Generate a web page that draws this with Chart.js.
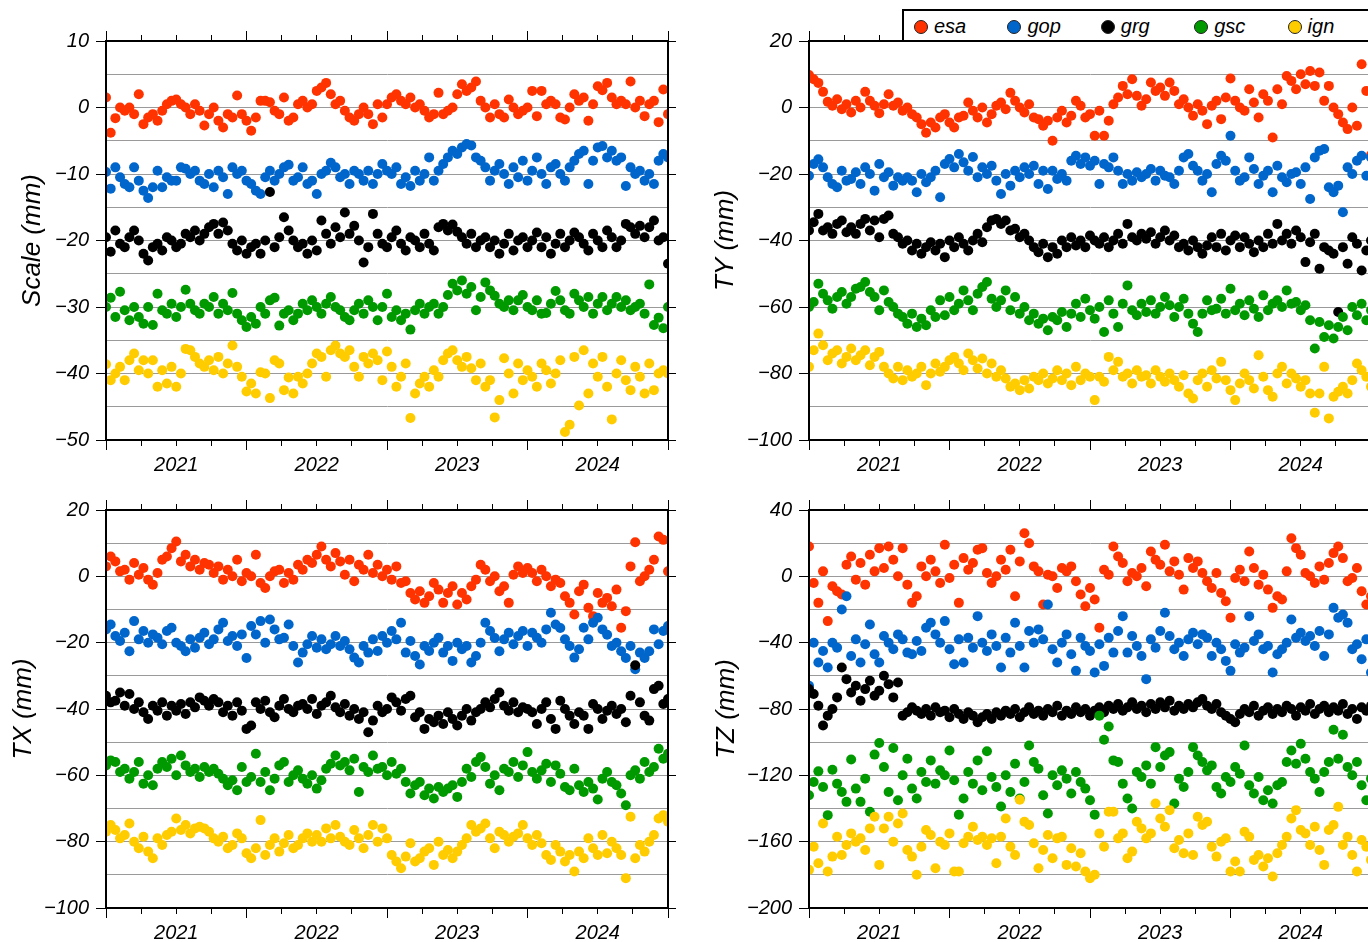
<!DOCTYPE html>
<html>
<head>
<meta charset="utf-8">
<script src="https://cdn.jsdelivr.net/npm/chart.js@4.4.1/dist/chart.umd.min.js"></script>
<style>
  html, body { margin: 0; padding: 0; background: #fff; overflow: hidden; width: 1368px; height: 942px; }
  #wrap { position: relative; width: 1380px; height: 942px; }
  #wrap canvas { position: absolute; }
  #legend {
    position: absolute; left: 902px; top: 9px; width: 480px; height: 29px;
    border: 2px solid #000; background: #fff; z-index: 5;
    font: italic 20px "Liberation Sans", Arial, sans-serif; color: #000;
  }
  #legend .mk { position: absolute; top: 9px; width: 12px; height: 12px; border: 1px solid #222; border-radius: 50%; }
  #legend .lb { position: absolute; top: 3px; line-height: 24px; }
</style>
</head>
<body>
<div id="wrap">
  <canvas id="cScale" width="700" height="475" style="left:0;top:0;width:700px;height:475px"></canvas>
  <canvas id="cTY" width="680" height="475" style="left:700px;top:0;width:680px;height:475px"></canvas>
  <canvas id="cTX" width="700" height="467" style="left:0;top:475px;width:700px;height:467px"></canvas>
  <canvas id="cTZ" width="680" height="467" style="left:700px;top:475px;width:680px;height:467px"></canvas>
  <div id="legend"></div>
</div>
<script>
// sampling: one value every 1/30 year starting at 2021.0
const firstEpoch = 2021;
const epochStep = 1 / 30;
const quarterTicks = [2021, 2021.25, 2021.5, 2021.75, 2022, 2022.25, 2022.5, 2022.75,
  2023, 2023.25, 2023.5, 2023.75, 2024, 2024.25, 2024.5, 2024.75, 2025];

const seriesNames = ["esa", "gop", "grg", "gsc", "ign"];
const seriesColors = ["#ff3300", "#0066cc", "#000000", "#009900", "#ffcc00"];

// ---- Scale (mm)
const scaleEsa = [1.5, -3.8, -1.6, 0, -0.5, 0, -1, 2, -2.5, -1.5, -1,
  -2, -0.5, 0.5, 1, 1.2, 0.5, 0, -1, 0.5, -0.5,
  -2.7, -1, 0, -2, -3, -1, -1.5, 1.8, -1, -2,
  -3.5, -1.5, 1, 1, 0.8, -0.5, -1, 1.5, -2, -1.5,
  0.5, 1, 0, 0.5, 2.5, 3, 3.7, 2, 0.5, 1,
  -0.5, -1.5, -2, -1, 0, -1, -2.5, 0.5, -1.5, 0.5,
  1.5, 2, 1, 0.5, 1.5, 0, 0.5, -0.5, -1.5, -1,
  2.2, -1, -0.5, 0, 2, 3.5, 2.5, 3, 3.9, 1,
  0, -1.5, 0.5, -1, -1.5, 1.2, 0, -1, -0.5, 0,
  2.5, -1.3, 2.5, 0.5, 1, 0.5, -1.5, -1.8, 0, 2,
  1, 1.5, -2, 0.5, 3.2, 2.6, 3.7, 1.5, 0.5, 1,
  0.5, 3.9, 0, 1, -1.3, 0.5, 1, -2.2, 2.7, -1];
const scaleGop = [-9.7, -12.2, -9, -10.5, -11.5, -12, -9, -11, -12.5, -13.6, -12,
  -9.5, -12, -10.5, -11, -11, -9, -9.2, -10, -9.5, -11,
  -11.5, -10, -12, -9.5, -10.5, -13, -9, -10, -9.5, -11,
  -11.5, -12.5, -13, -10.5, -9.5, -11, -10, -9, -8.6, -11,
  -10.5, -9, -11.5, -11, -13, -10, -9.5, -8.3, -9, -10.5,
  -10, -11.5, -9.5, -10, -11, -9.5, -11.5, -10, -8.5, -9.5,
  -10, -9, -11.5, -10.5, -11.8, -9.5, -11, -10, -7.5, -11,
  -9.5, -8.5, -7.5, -6.5, -7, -6, -5.5, -5.7, -7.5, -8,
  -9, -11, -9.5, -8.5, -10, -11.5, -9, -10.5, -8, -11,
  -9.5, -7.5, -10, -11.5, -9, -8.5, -10, -11, -9, -8,
  -7, -6.5, -11.5, -8, -6, -5.8, -7.5, -6.5, -8, -7.5,
  -11.8, -9, -10, -9.5, -11, -10, -11.5, -8, -7, -7.5];
const scaleGrg = [-19.5, -21.7, -18.5, -20.5, -21, -19.5, -18.5, -20, -22, -23, -21,
  -20.5, -21.5, -19.5, -20, -21, -20.5, -19, -19.5, -18.5, -20,
  -19, -18, -17.5, -19, -17.3, -18.5, -20.5, -21.5, -20, -22,
  -21, -20.5, -22, -20, -12.7, -21, -19.5, -16.5, -18.5, -20,
  -21, -20.5, -22, -20, -21.5, -17, -19, -20.5, -18, -19.5,
  -15.8, -19, -17.8, -20, -23.3, -21, -16, -19, -20.5, -21,
  -19.5, -18.5, -20.5, -21.5, -19.5, -20, -21, -19, -20.5, -21.5,
  -18, -17.5, -18.5, -17.6, -18.7, -19.5, -20.5, -19, -21, -20,
  -19.5, -21, -20, -22, -20.5, -19, -21.5, -20, -19.5, -21,
  -20, -18.8, -21, -19.5, -22, -20.5, -19, -21, -20, -18.8,
  -19.5, -20.5, -21.5, -19, -20, -21, -18.5, -19.5, -21, -20,
  -17.5, -18, -19, -17.8, -19.5, -18, -17, -20, -19.5, -23.5];
const scaleGsc = [-30, -28.6, -31.5, -27.7, -30.5, -32, -30, -31.5, -32.5, -30, -32.7,
  -28, -30.5, -31, -29.5, -31.5, -30, -27.4, -29.5, -30.5, -31,
  -29.5, -30, -28.5, -31, -29.5, -30.5, -27.9, -31, -32, -33,
  -31.5, -32.5, -30, -31, -29, -28.6, -32.8, -31, -30.5, -32,
  -31, -29.5, -30.5, -29, -30, -31, -29.5, -28.5, -30, -30.5,
  -31.5, -32, -30.5, -29.5, -31, -29, -30, -32, -30, -28,
  -31.5, -30.5, -32, -31, -33.4, -30.5, -29.5, -31, -30, -29.5,
  -31, -30, -28.2, -26.5, -27.5, -26, -28, -27, -30.5, -28.5,
  -26.3, -27.5, -28.3, -29.5, -30, -29, -30.5, -29, -28.2, -30,
  -30.5, -29, -31, -30.9, -29.5, -27.6, -29, -30.5, -31, -28,
  -29, -30, -28.5, -31, -29.5, -28.5, -30.5, -29.5, -28.5, -30,
  -29, -30.5, -30, -29.5, -31, -26.6, -32.7, -31.6, -33.2, -30];
const scaleIgn = [-38.6, -41, -40, -39, -41, -38, -37, -39.5, -38, -40, -38,
  -42, -39.5, -41.5, -39, -42, -40, -36.3, -36.5, -37.5, -38.5,
  -39, -38, -39.5, -37.5, -40, -38.5, -35.8, -39, -40.5, -42.7,
  -41.5, -43, -39.8, -40, -43.7, -38, -38.5, -42.5, -40.6, -43,
  -40.5, -41.5, -40, -38.5, -37, -37.5, -40.5, -36.5, -35.8, -37,
  -37.5, -36.5, -39, -40.5, -37.5, -38.5, -37, -38, -41, -36.7,
  -39, -42, -40.5, -38.5, -46.7, -43, -41.5, -40.5, -42, -39.5,
  -40.5, -38, -37, -36.5, -38, -39, -37.5, -39.2, -41, -38.5,
  -42, -41, -46.6, -44, -37.7, -40, -43, -38.5, -41, -39.5,
  -40.5, -42, -38.5, -39.5, -41.5, -40, -38, -48.8, -47.7, -37.5,
  -44.8, -36.5, -43, -38.5, -40.5, -37.5, -42, -46.9, -40, -38,
  -41, -42.5, -39, -40.5, -43, -38.5, -42.5, -40, -39.5, -40];

// ---- TY (mm)
const tyEsa = [9.8, 8.5, 7.4, 4.7, 1.7, 0.5, 2.5, -0.5, 1, -1.5, 2,
  0, 4.7, 2, 0.5, -1.7, 1, 4, 0.5, 1.5, -1,
  0, -2, -3, -5, -7.6, -4.5, -6, -3, -2, -4.5,
  -6, -3, -2.5, 1.5, -1, -3, 0, -4.5, -2, 0.5,
  1.5, -0.5, 4.4, 2, 0, -1.5, 1, -3, -3.5, -5.5,
  -4, -10, -3, -1, -4.5, -2.5, 2, 0.5, -3, -2,
  -8.5, -1, -8.5, -4, 1, 3, 6.5, 4, 8.5, 3.5,
  0.5, 2.5, 7.5, 5, 6, 3.5, 7.5, 5, 1, 2.5,
  0, -2.5, 1, -1, -5, 0.5, 2, -3.5, 3, 8.7,
  2, 0, -1, 5.5, 1.5, -3, 4, 2, -9, 5.5,
  1, 9.5, 8, 5.5, 10, 7, 11, 6.5, 10.5, 2,
  6.5, 0, -2, -4.5, -6.5, 0, -5.5, 13, 5, -14.3];
const tyGop = [-20.5, -17, -15.6, -18, -21, -23, -24, -19, -22, -21.5, -19.5,
  -23, -18, -20, -25, -17, -21, -19.5, -23.5, -21, -22,
  -21, -22, -25.5, -20, -22.5, -21, -19, -27, -17, -15.5,
  -18, -14, -16.5, -19, -14.9, -21, -18, -20, -17.5, -22,
  -26, -20, -23.5, -19, -21, -18, -20, -17.5, -23, -19,
  -24.5, -19, -21.5, -20, -22, -16, -14.5, -17, -15, -17.5,
  -16, -23, -17, -18, -15, -19, -23, -20, -22, -19.5,
  -21, -20, -18.5, -22, -19, -20.5, -21, -23, -19, -15,
  -14, -17.5, -19, -22, -20, -25.5, -17, -14.5, -16, -8.5,
  -19, -22, -21, -15, -18.5, -23, -20.5, -19, -25.5, -17.5,
  -21, -22.5, -20, -19.5, -23, -18, -27.5, -15, -13, -12.5,
  -24, -25.5, -23.5, -31.5, -18, -20, -16, -14.5, -20.5, -15];
const tyGrg = [-37, -34.5, -32, -37, -36, -38, -35, -34, -37.5, -36, -38,
  -35, -33.5, -37, -34, -39, -33.5, -32.5, -38, -39, -41,
  -40, -43, -41, -44, -42, -40.5, -43, -41, -45, -40,
  -42, -39, -41, -43, -40, -38, -40.5, -36, -34, -33.5,
  -35, -34, -37, -36.5, -39, -38, -40, -42, -43.5, -41,
  -45, -42, -44, -40, -42, -39, -41.5, -40, -42, -38.5,
  -40, -41, -39, -42, -40, -38, -41, -35, -39, -40,
  -38, -39.5, -37.5, -41, -39, -37, -40, -38.5, -42, -41,
  -43, -40, -42, -44, -41.5, -39, -42, -38, -43, -40,
  -38.5, -42, -39, -41, -43.5, -40, -42, -38, -41, -35,
  -40, -38, -41, -37, -39, -46.5, -40.5, -38, -48.5, -42,
  -43, -44, -61.5, -42, -47, -39, -41, -49, -43, -40];
const tyGsc = [-60, -58.5, -53, -56, -58, -60.5, -57, -55.5, -59, -57, -54.5,
  -54, -52.5, -55.5, -57, -61, -55, -58.5, -60, -62, -63,
  -65, -62, -66, -63.5, -65.5, -61, -63, -58, -62.5, -57,
  -61, -59, -55, -58, -61, -56, -54, -52.5, -57.5, -60,
  -58, -55, -61, -57, -62, -60, -64, -62, -65, -63.5,
  -67, -63, -64, -61.5, -66, -62, -59, -63, -57.5, -61,
  -63.5, -60, -67.5, -58, -62, -66, -59, -53.5, -61, -62.5,
  -59, -61.5, -58, -62, -60, -57, -59.5, -63, -60, -57.5,
  -62, -65, -67.5, -62, -58, -61, -60.5, -57.5, -62, -54.5,
  -61, -59, -62.5, -58, -60.5, -63, -56.5, -61, -59, -58,
  -60, -55, -59, -58.5, -61, -59.5, -64, -72.5, -64.5, -69,
  -65.5, -69.5, -66, -63, -67, -60, -62.5, -59, -64, -61];
const tyIgn = [-78, -73, -68, -71.5, -76, -74, -73, -77, -75, -72.5, -76,
  -74.5, -73, -77.5, -75, -73.5, -78, -80, -81.5, -78, -82,
  -79, -81, -80, -78, -83.5, -80, -77, -79.5, -78, -76,
  -75, -77, -79, -74, -76, -78.5, -75.5, -80, -77, -81,
  -79, -81.5, -84, -83, -85, -82, -84.5, -81, -82, -80,
  -83, -81.5, -79, -82, -80, -83.5, -78, -82, -80, -81,
  -88, -81, -82.5, -75, -79, -76.5, -81, -80, -83, -79,
  -81, -80.5, -83, -79, -81, -82.5, -80, -82, -84, -80.5,
  -86, -87.5, -82, -80, -84, -79, -81.5, -76.5, -82, -85,
  -88, -83, -80, -82, -84.5, -74.5, -81, -85, -87, -80,
  -78, -83, -80, -81.5, -84, -82, -86, -91.8, -86, -78,
  -93.5, -87, -85.5, -84, -86, -82, -77, -79, -81, -84];

// ---- TX (mm)
const txEsa = [3, 6, 4.5, 1.5, 2, -1, 4, 0.5, 2.5, -1, -2.5,
  1, 5, 6, 8.5, 10.5, 4.5, 6.5, 3, 5, 2,
  4, 3.5, 1, 3, -1, 2, 0, 5, -1.5, 1,
  0, 6.5, -2, -3.5, 0, 1.5, 2, -2, 1, -1,
  3.5, 2, 5, 4, 6.5, 9, 5, 3, 7, 4.5,
  0.5, 5, -1.5, 3.5, 2, 6.5, 1, 3.5, 0, 2,
  -1, 3, -2, -1.5, -5, -7, -4.5, -8, -6, -2,
  -4, -8, -5, -3, -8.5, -5, -7, -3, -1, 3.5,
  2, -1.5, 0, -4.5, -3, -8, 0.5, 3, 1, 2.5,
  1, -1.5, 2, 0, -3, -1, -2, -6, -8, -11.5,
  -4.5, -2.5, -9.5, -12, -5, -8, -6.5, -9, -4, -15.5,
  -10.5, 3, 10.3, -1.5, 0, 2, 5, 12, 11, 1.5];
const txGop = [-16, -14.5, -18, -19.5, -17, -22.6, -13.5, -19, -16.5, -20, -17.5,
  -18.5, -20.5, -16.5, -15.5, -20, -21, -22.6, -19, -21.5, -18.5,
  -17, -20.5, -19, -16, -14, -19.5, -18, -21, -17.5, -24.6,
  -15, -17.5, -13.5, -20, -13, -16, -19, -18.5, -14.5, -21,
  -26, -23, -20.5, -18, -21.5, -19, -22, -20.5, -18, -21,
  -19.5, -22, -24.5, -26, -21, -23, -19, -22.5, -18, -20,
  -16.5, -19, -14, -23, -19.5, -24, -26.6, -21, -22.5, -20,
  -18.5, -23, -21, -25.5, -20, -22, -21, -26, -24, -20,
  -14, -16.5, -18.6, -22.6, -19, -17, -20.5, -18, -16.5, -21,
  -17, -18.5, -20, -16, -11, -14.5, -15.6, -19, -21, -24.5,
  -22, -15.5, -19, -14, -12.5, -16, -17.6, -21, -20, -22.6,
  -24.6, -21, -28, -23, -24.6, -22.6, -16, -20.5, -16.5, -15];
const txGrg = [-36, -38, -37.5, -35, -39, -35.5, -40, -38, -41, -43, -39,
  -40.5, -38, -42, -39, -40.5, -38.5, -41.5, -38, -39.5, -36.5,
  -37.5, -39, -37, -38, -41, -39, -42, -38, -40.5, -46,
  -45, -38, -40, -37.5, -41, -42.5, -39, -37, -40, -41,
  -39, -38.5, -40, -37, -41.5, -39, -38, -36, -39.5, -41,
  -38.5, -42, -40, -43, -41, -47, -43.5, -39, -41, -40,
  -36.5, -38, -40.5, -37, -36, -42.5, -41, -46, -43, -44,
  -42, -44.5, -41, -43, -45, -42, -40, -43.5, -41, -40,
  -38, -39.5, -37, -35, -39, -40.5, -38, -41, -39.5, -40,
  -41, -44.5, -40, -38, -43, -46, -37.5, -40, -42, -44.5,
  -41, -42, -46, -38.5, -40, -43, -40.5, -39, -41.5, -40,
  -44, -36, -26.8, -38, -42, -43.5, -34, -33, -38.5, -37];
const txGsc = [-57, -55.5, -56, -59, -58, -61, -59, -56, -62.5, -60, -63,
  -58, -56, -57.5, -55, -60, -54, -57, -59, -58, -60.5,
  -57.5, -59, -58, -59.5, -61, -63, -61.5, -64.5, -57.5, -62,
  -60.5, -53.5, -62, -59, -64.5, -61, -57, -56, -62, -60,
  -58.5, -61, -62.5, -60, -64, -61.5, -58, -56.5, -54, -57,
  -56, -58.5, -55, -65, -57.5, -59, -54, -58, -57.5, -60,
  -56, -59.5, -58, -62, -65.5, -63, -62, -66, -64, -67,
  -63.5, -65, -64, -63, -66.5, -62, -58, -60.5, -56, -54.5,
  -57.5, -62.5, -60, -64.5, -58, -59, -56, -60.5, -57, -53,
  -59, -61, -58.5, -56.5, -62, -57, -59.5, -63.5, -64.5, -58,
  -63, -65, -62, -64, -67.3, -61, -59, -62, -63, -65.5,
  -69, -60, -58.5, -61, -56, -59, -57.5, -52, -55, -53.5];
const txIgn = [-77, -75, -76.5, -79, -78, -74.5, -80, -82, -78.5, -83, -85,
  -79, -81, -78, -77, -73, -76.5, -75, -77.5, -76, -75.5,
  -76, -77, -79, -80, -78.5, -82, -81, -77.5, -79, -83.5,
  -85, -82, -73.5, -84, -81, -79, -83, -80.5, -78, -82,
  -81, -79, -77.5, -80, -78, -80, -76, -79, -75, -78.5,
  -80, -81, -76.5, -79, -82, -78, -75, -80, -76, -79,
  -84, -86, -88, -84.5, -80.5, -86, -85, -83, -82, -87,
  -80, -84, -82.5, -85, -83, -81, -79, -75, -77, -76,
  -74.5, -79, -82, -77, -78, -80, -78.5, -77.5, -75, -79,
  -81, -78, -80.5, -84, -85.5, -81, -83, -86, -84, -89,
  -83, -85, -79, -82, -84, -78, -83.5, -80, -82, -84,
  -91, -72.5, -85, -81, -83, -80, -78, -73, -72, -74];

// ---- TZ (mm)
const tzEsa = [18, -4, -16, 3, -27, -6, -9, -11, 7, 12, -2,
  8, -5, 13, 3, 17, 5, 18, 10, 0, 17,
  -5, -16, -12, 6, 0, 10, 3, -4, 19, -1,
  7, -16, 11, 4, 8, 16, 17, 2, -4, 0,
  10, 4, 16, -12, 9, 26, 20, 6, 3, -17,
  1, 0, -7, 5, 3, 6, -3, -11, -18, -7,
  -14, -31, 4, 1, 18, 12, 8, -3, 2, 0,
  5, -6, 15, 10, 7, 19, 3, 9, 1, -8,
  11, 5, 9, 2, -3, -7, 2, -10, -15, -25,
  -1, 4, -3, 15, 5, -5, 1, -8, -19, -12,
  -14, 3, 23, 17, 13, 2, 0, -4, 6, -2,
  8, 14, 18, 11, -3, -1, 5, -9, -17, -12];
const tzGop = [-66, -40, -52, -45, -55, -40, -43, -20, -12, -48, -38,
  -52, -41, -29, -47, -52, -36, -40, -44, -35, -38,
  -46, -47, -39, -45, -31, -28, -35, -40, -27, -44,
  -53, -38, -52, -37, -43, -24, -40, -45, -35, -42,
  -55, -37, -46, -28, -42, -55, -33, -40, -32, -38,
  -17, -44, -52, -40, -35, -47, -57, -37, -42, -45,
  -58, -41, -54, -37, -46, -33, -24, -46, -36, -42,
  -48, -62, -38, -43, -33, -22, -36, -44, -40, -48,
  -38, -34, -41, -35, -37, -48, -40, -44, -51, -57,
  -41, -46, -43, -24, -39, -35, -44, -42, -58, -47,
  -44, -40, -26, -37, -34, -39, -36, -42, -33, -48,
  -35, -19, -25, -23, -28, -44, -41, -50, -38, -58];
const tzGrg = [-68, -71, -78, -90, -84, -80, -73, -55, -62, -70, -66,
  -75, -68, -63, -72, -69, -60, -65, -73, -64, -84,
  -82, -79, -81, -83, -80, -84, -79, -82, -81, -85,
  -80, -83, -86, -82, -84, -88, -85, -83, -86, -82,
  -84, -81, -83, -80, -85, -82, -79, -83, -81, -84,
  -80, -82, -78, -84, -81, -83, -79, -82, -80, -84,
  -81, -79, -82, -78, -80, -77, -81, -79, -76, -80,
  -78, -82, -77, -80, -76, -79, -75, -81, -78, -80,
  -77, -79, -76, -74, -78, -80, -77, -82, -84, -86,
  -88, -83, -80, -82, -78, -84, -81, -79, -83, -80,
  -82, -78, -80, -84, -79, -81, -77, -83, -80, -78,
  -82, -79, -81, -77, -83, -80, -86, -79, -81, -78];
const tzGsc = [-132, -124, -117.6, -127, -144, -116.6, -125, -130, -136, -110.5, -128,
  -136, -122, -142, -107.5, -100.5, -115, -130, -103.5, -135, -120,
  -110, -128, -134, -118, -124, -111, -125, -117, -120, -105,
  -123, -143.7, -134, -118, -125, -111, -129, -105.5, -121, -127,
  -138.8, -120, -130, -113, -134, -124, -102, -112, -116, -132,
  -143, -120, -126, -117, -122, -131, -118, -124, -128, -135,
  -143.7, -84, -98.5, -90.5, -111, -112, -125, -134, -140, -118,
  -121, -114, -125, -103, -115, -108, -106, -137, -122, -127,
  -118, -103, -108, -112, -117, -114, -127, -131, -121, -124,
  -115, -119, -102, -126, -131, -121, -135, -129, -137, -126,
  -124, -112, -105, -113, -101, -110, -118, -122, -130, -118,
  -112, -92.5, -110, -95.5, -115, -120, -112, -126, -135, -122];
const tzIgn = [-177, -163, -173, -149, -178, -169, -157, -168, -162, -155, -160,
  -158, -165, -152, -145, -174, -152, -145, -160, -149, -143,
  -165, -169, -180, -163, -153, -156, -176, -160, -162, -155,
  -178, -178, -161, -157, -151, -159, -157, -162, -158, -173,
  -157, -146, -163, -168, -134.7, -148, -150, -161, -176, -165,
  -156, -170, -158, -157, -174, -164, -175, -167, -178, -182,
  -180, -155, -163, -142, -142, -158, -155, -170, -166, -148,
  -152, -158, -155, -137, -146, -151, -141, -164, -159, -167,
  -155, -168, -145, -150, -148, -163, -169, -160, -158, -178,
  -172, -178, -154, -157, -171, -168, -175, -170, -181, -167,
  -162, -157, -146, -141, -153, -155, -162, -151, -165, -174,
  -153, -150, -139, -162, -157, -168, -178, -159, -163, -171];

Chart.defaults.font.family = '"Liberation Sans", Arial, Helvetica, sans-serif';
Chart.defaults.font.size = 20;
Chart.defaults.font.style = "italic";
Chart.defaults.color = "#000";

const FRAME = { display: true, color: "#000", width: 2, z: 1 };
const GRID = "#9a9a9a";

const toPoints = (values) => values.map((v, i) => ({ x: firstEpoch + i * epochStep, y: v }));
const fmtMinus = (v) => String(v).replace("-", "\u2212");

function xAxis(position, height, withLabels) {
  return {
    type: "linear",
    position,
    min: 2021,
    max: 2025,
    afterBuildTicks: (s) => { s.ticks = quarterTicks.map((v) => ({ value: v })); },
    afterFit: (s) => { s.height = height; },
    border: FRAME,
    grid: {
      drawOnChartArea: false,
      tickLength: 10,
      tickColor: "#000",
      tickWidth: 1,
      // yearly ticks full length, quarterly ones short
      tickBorderDash: (c) => {
        if (c.tick && c.tick.value % 1 === 0) return [];
        return position === "top" ? [0, 4, 5, 40] : [5, 40];
      },
    },
    ticks: {
      display: withLabels,
      autoSkip: false,
      maxRotation: 0,
      padding: 3,
      callback: (v) => (v % 1 === 0.5 ? String(Math.floor(v)) : ""),
    },
  };
}

function panel(id, title, series, yMin, yMax, gridStep, labelStep, box, titlePad) {
  const [padL, padT, padR, padB] = box;
  const tickColor = (c) => (c.tick && c.tick.value % labelStep === 0 ? "#000" : "rgba(0,0,0,0)");
  new Chart(document.getElementById(id), {
    type: "scatter",
    data: {
      datasets: series.map((vals, k) => ({
        label: seriesNames[k],
        data: toPoints(vals),
        backgroundColor: seriesColors[k],
        borderWidth: 0,
        pointRadius: 5,
        pointHoverRadius: 5,
        order: series.length - k,
      })),
    },
    options: {
      responsive: false,
      animation: false,
      events: [],
      layout: { padding: 0 },
      plugins: { legend: { display: false }, tooltip: { enabled: false } },
      scales: {
        x: xAxis("bottom", padB, true),
        xTop: xAxis("top", padT, false),
        y: {
          type: "linear",
          position: "left",
          min: yMin,
          max: yMax,
          afterFit: (s) => { s.width = padL; },
          border: FRAME,
          grid: { color: GRID, lineWidth: 1, tickLength: 10, tickColor },
          ticks: {
            stepSize: gridStep,
            autoSkip: false,
            padding: 7,
            callback: (v) => (v % labelStep === 0 ? fmtMinus(v) : ""),
          },
          title: {
            display: true,
            text: title,
            font: { size: 26, style: "italic" },
            padding: { top: titlePad, bottom: 0 },
          },
        },
        yRight: {
          type: "linear",
          position: "right",
          min: yMin,
          max: yMax,
          afterFit: (s) => { s.width = padR; },
          border: FRAME,
          grid: { drawOnChartArea: false, tickLength: 8, tickColor },
          ticks: { stepSize: gridStep, display: false },
        },
      },
    },
  });
}

panel("cScale", "Scale (mm)", [scaleEsa, scaleGop, scaleGrg, scaleGsc, scaleIgn],
  -50, 10, 5, 10, [106, 41, 32, 35], 17);
panel("cTY", "TY (mm)", [tyEsa, tyGop, tyGrg, tyGsc, tyIgn],
  -100, 20, 10, 20, [109, 41, 9, 35], 10);
panel("cTX", "TX (mm)", [txEsa, txGop, txGrg, txGsc, txIgn],
  -100, 20, 10, 20, [106, 35, 32, 34], 8);
panel("cTZ", "TZ (mm)", [tzEsa, tzGop, tzGrg, tzGsc, tzIgn],
  -200, 40, 20, 40, [109, 35, 9, 34], 11);

// legend box (top right)
const legend = document.getElementById("legend");
seriesNames.forEach((name, k) => {
  const x0 = 10 + k * 93.4;
  legend.insertAdjacentHTML("beforeend",
    `<span class="mk" style="left:${x0}px;background:${seriesColors[k]}"></span>` +
    `<span class="lb" style="left:${x0 + 20}px">${name}</span>`);
});
</script>
</body>
</html>
